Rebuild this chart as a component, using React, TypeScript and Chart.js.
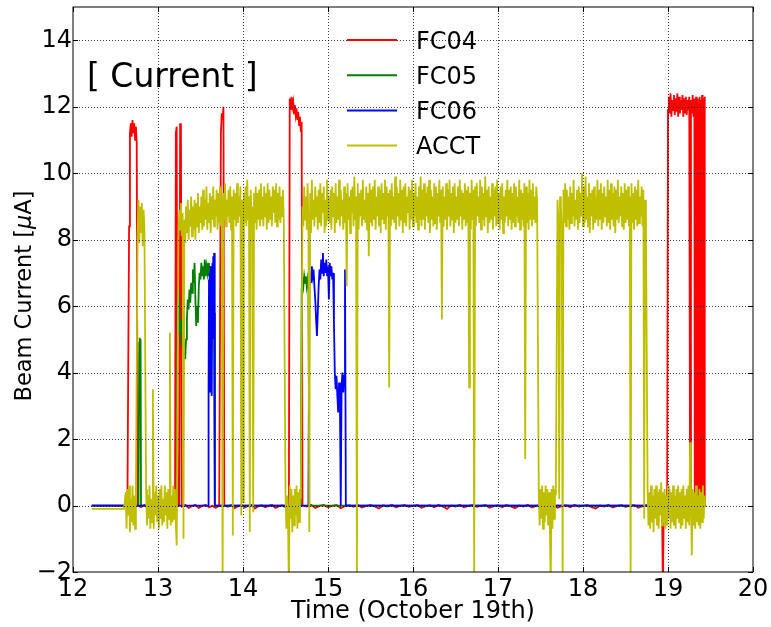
import { useEffect, useRef } from "react";
import { Chart, registerables } from "chart.js";

Chart.register(...registerables);

type Point = { x: number; y: number };

// Axes: time of day (hours, October 19th) and beam current in µA
const X_RANGE = [12, 20];
const Y_RANGE = [-2, 15];
const X_TICKS = [12, 13, 14, 15, 16, 17, 18, 19, 20];
const Y_TICKS = [-2, 0, 2, 4, 6, 8, 10, 12, 14];
const SERIES_NAMES = ["FC04", "FC05", "FC06", "ACCT"];

// ---- FC04 Faraday cup -------------------------------------------------------
const fc04Lead = [0, 0];
const fc04Pulse1 = [8.4, 11.2, 11.5, 11.1, 11.6, 11.2, 11.5, 11.0, 11.4, 10.9];
const fc04Base1 = [0.0, -0.05, 0.02, -0.08, -0.02, 0.02, -0.06, -0.01, 0.02, -0.06, -0.03, 0.0];
const fc04Pulse2 = [11.2, 11.4, 0.0, 0.0, 0.0, 11.5, 11.3];
const fc04Base2 = [-0.03, 0.02, -0.07, -0.02, 0.02, -0.08, -0.01, 0.02, -0.05, -0.01, -0.07, 0.0];
const fc04Pulse3 = [11.2, 11.8, 11.6, 12.0];
const fc04Base3 = [
  0.0, -0.04, 0.02, -0.08, -0.03, 0.02, -0.06, -0.01, 0.02, -0.09,
  -0.02, 0.01, -0.05, -0.01, 0.02, -0.07, -0.03, 0.01, -0.05, 0.0,
];
const fc04Pulse4 = [12.25, 11.9, 12.3, 12.0, 12.15, 11.8, 12.05, 11.75, 11.95, 11.6, 11.85, 11.45, 11.7, 11.25, 11.55];
const fc04Base4 = [
  0.0, -0.03, 0.02, -0.07, -0.01, 0.02, -0.05, -0.01, 0.02, -0.08,
  -0.02, 0.01, -0.04, 0.02, -0.06, -0.01, 0.02, -0.03, -0.09, 0.01,
  -0.03, 0.02, -0.05, -0.01, 0.02, -0.04, -0.01, 0.02, -0.07, -0.02,
  0.01, -0.05, 0.02, -0.03, -0.1, 0.0, -0.03, 0.02, -0.05, -0.01,
  0.02, -0.04, -0.01, 0.02, -0.07, -0.02, 0.01, -0.05, 0.02, -0.03,
  -0.08, 0.0, -0.03, 0.02, -0.06, -0.01, 0.02, -0.04, -0.01, 0.02,
  -0.07, -0.02, 0.01, -0.05, 0.02, -0.03, -0.01, 0.02, -0.05, -0.09,
  0.0, -0.03, 0.02, -0.06, -0.01, 0.02, -0.04, -0.01, 0.02, -0.07,
  -0.02, 0.01, -0.05, 0.02, 0.0,
];
const fc04Dip = [0.0, -2.6, 0.0];
const fc04Pulse5 = [
  0.0,
  11.9, 12.3, 11.8, 12.4, 11.7, 12.2, 11.9, 12.35, 11.75, 12.25,
  11.85, 12.4, 11.7, 12.3, 11.8, 12.2, 11.9, 12.35, 11.7, 12.25,
  11.8, 12.3, 11.75, 12.2, 11.9, 12.3,
  0.05,
  12.2, 11.8, 12.35, 11.7, 12.25,
];
const fc04Pulse5Tail = [
  0.1, 12.2, 0.0, 12.3, 0.1, 11.9, 0.0, 12.25, 0.05, 12.1, 0.0, 12.3,
  0.1, 11.95, 0.0, 12.2, 0.05, 12.35, 0.0, 12.0, 0.1, 12.25, 0.0, 12.3, 0.0,
];

// ---- FC05 Faraday cup -------------------------------------------------------
const fc05Lead = [0, 0];
const fc05Blip = [4.9, 5.05, 4.85, 5.0];
const fc05Base1 = [0, 0];
const fc05Pulse1 = [
  5.9, 6.6, 6.0, 5.2, 5.6, 4.8, 5.2, 4.5, 4.9, 4.4,
  5.0, 5.6, 6.2, 5.9, 6.5, 6.1, 6.7, 6.4, 7.1, 6.7,
  7.3, 6.2, 5.4, 6.0, 5.5, 6.6, 7.0, 6.8, 7.3, 6.9,
  7.2, 6.8, 7.4, 6.9, 7.2, 7.0, 7.3, 6.9, 7.2, 6.6,
  7.0, 6.4, 6.8, 5.8, 0.0,
];
const fc05Base2 = [0, 0];
const fc05Pulse2 = [6.5, 6.8, 6.6, 6.9, 6.7, 6.9, 6.6, 6.8, 6.5];
const fc05Base3 = [0, 0];

// ---- FC06 Faraday cup -------------------------------------------------------
const fc06Lead = [0, 0];
const fc06Pulse1 = [3.5, 6.8, 3.4, 7.0, 4.0, 7.2, 3.6, 6.9, 3.3, 7.3, 5.0, 7.5, 6.2, 7.6, 3.5];
const fc06Base1 = [0, 0];
const fc06Pulse2 = [
  6.6, 7.0, 6.7, 7.2, 6.9, 7.1, 6.6, 6.2, 5.6, 5.1,
  5.8, 6.6, 7.1, 6.8, 7.4, 7.0, 7.6, 6.9, 7.3, 7.0,
  7.4, 6.9, 7.2, 6.2, 7.3, 6.9, 7.2, 6.8, 7.0, 5.5,
  4.0, 3.5, 3.9, 3.3, 2.8, 3.7, 3.2, 0.0, 3.6, 4.0,
  3.4, 3.9, 7.1,
];
const fc06Base2 = [0, 0];

// ---- ACCT current transformer (logged every 0.01 h) --------------------------
const ACCT_STEP = 0.01;
const acctLead = [-0.1, -0.1];
const acctQuiet1 = [0.4, -0.7, 0.5, -0.3, 0.6, -0.8, 0.2, -0.5, 0.6, -0.6, 0.3, -0.7, 0.4];
const acctBurst = [8.1, 9.2, 7.9, 9.0, 8.2, 9.1, 7.8, 8.9, 8.4];
const acctQuiet2 = [
  0.5, -0.6, 0.3, -0.4, 0.6, -0.7, 0.2, -0.5, 3.5, -0.7,
  0.4, -0.3, 0.6, -0.5, 0.3, -0.7, 0.5, -0.4, 0.6, -0.6,
  0.2, -0.5, 0.6, -0.3, 0.4, -0.7, 0.5, -0.4, 5.2, -0.6,
  0.3, -0.5, 0.6, -0.4, 0.5, -0.6, -1.2,
];
const acctBeam1 = [
  8.0, 8.9, 8.3, 9.1, 8.1, 8.8, -1.0, 8.6, 7.9, 9.0,
  8.2, 9.2, 8.0, 8.9, 8.4, 9.3, 8.1, 9.0, 8.3, 9.2,
  8.0, 9.1, 8.4, 9.4, 8.2, 9.0, 8.5, 9.3, 8.3, 9.5,
  8.4, 9.2, 8.6, 9.6, 8.3, 9.1, 8.5, 9.4, 8.2, 9.3,
  8.6, 9.6, 8.4, 9.2, 8.7, 9.5, 8.3, 9.4, 8.5, 9.6,
  8.4, 9.3, -2.5, 9.4, 8.6, 9.7, 8.4, 9.2, 8.7, 9.5,
  8.5, 9.6, 8.3, 9.3, -0.9, 9.5, 8.6, 9.4, 8.4, 9.7,
  8.5, 9.3, 8.7, 9.6, -0.3, 9.2, 0.1, 9.4, 8.5, 9.6,
  8.4, 9.8, 8.6, 9.3, -0.8, 9.5, 8.7, 9.0, -0.2, 9.4,
  8.5, 9.6, 8.3, 9.4, 8.6, 9.5, 8.4, 9.7, 8.6, 9.3,
  8.4, 9.6, 8.7, 9.4, 8.3, 9.7, 8.5, 9.5, 8.6, 9.3,
  8.4, 9.6, 8.8, 9.5, 8.5, 9.7, 8.4, 9.4, 8.6, 9.6,
  8.5, 9.3, 8.7, 9.5, 8.5,
];
const acctQuiet3 = [0.4, -0.7, 0.3, -0.5, -2.5, 0.6, -0.4, 0.5, -0.8, 0.3, -0.6, 0.5, -0.3, 0.6, -0.7, 0.4, -0.5, 0.5, 0.2];
const acctBeam2 = [
  9.0, 8.4, 9.6, 8.6, 9.3, 8.3, 9.7, 8.5, -0.8, 9.4,
  8.2, 9.8, 8.6, 9.2, 8.4, 9.6, 8.7, 9.3, 8.3, 9.5,
  8.5, 9.7, 8.4, 9.4, 8.8, 9.6, 8.2, 9.2, 8.4, 9.8,
  8.6, 9.3, 8.5, 9.5, 8.3, 9.6, 8.7, 9.4, 8.2, 9.7,
  8.5, 9.3, 8.6, 9.8, 8.4, 9.5, 8.7, 9.2, 8.3, 9.6,
  8.5, 9.4, 6.6, 9.7, 8.6, 9.3, 8.2, 9.5, 8.8, 9.6,
  8.4, 9.9, 8.6, 9.3, -2.5, 9.7, 8.3, 9.4, 8.7, 9.5,
  8.4, 9.8, 8.6, 9.2, 8.5, 9.6, 8.3, 9.4, 7.5, 9.7,
  8.5, 9.5, 8.4, 9.6, 8.6, 9.8, 8.3, 9.3, 8.7, 9.6,
  8.4, 9.5, 8.2, 9.7, 8.6, 9.4, 8.5, 9.8, 8.3, 9.6,
  8.7, 9.4, 3.55, 9.5, 8.4, 9.7, 8.6, 9.3, 8.5, 9.9,
  8.3, 9.6, 8.7, 9.4, 8.4, 9.8, 8.6, 9.5, 8.2, 9.6,
  8.5, 9.7, 8.4, 9.3, 8.8, 9.6, 8.3, 9.5, 8.6, 9.8,
  8.4, 9.4, 8.7, 9.7, 8.5, 9.3, 8.3, 9.6, 8.6, 9.9,
  8.4, 9.5, 8.6, 9.7, 8.3, 9.4, 8.7, 9.6, 8.5, 9.8,
  8.2, 9.5, 8.6, 9.3, 8.4, 9.7, 8.5, 9.6, 8.3, 9.4,
  8.7, 9.8, 8.5, 9.5, 5.6, 9.6, 8.4, 9.3, 8.6, 9.7,
  8.3, 9.5, 8.7, 9.8, 8.4, 9.4, 8.6, 9.6, 8.2, 9.7,
  8.5, 9.3, 8.6, 9.6, 8.4, 9.8, 8.7, 9.5, 8.3, 9.4,
  8.6, 9.7, 8.4, 9.5, 8.5, 9.6, 3.55, 9.4, 8.3, 9.8,
  8.6, 9.5, -2.5, 9.6, 8.4, 9.7, 8.7, 9.3, 8.5, 9.8,
  8.3, 9.6, 8.6, 9.4, 8.4, 9.9, 8.7, 9.5, 8.2, 9.6,
  8.5, 9.3, 8.6, 9.7, 8.3, 9.5, 8.7, 9.6, 8.4, 9.8,
  8.5, 9.4, 8.3, 9.6, 8.6, 9.7, 8.2, 9.3, 8.5, 9.5,
  8.7, 9.8, 8.4, 9.5, 8.6, 9.6, 8.3, 9.4, 8.5, 9.7,
  8.4, 9.6, 8.7, 9.3, 8.5, 9.8, 8.3, 9.5, 8.6, 9.4,
  8.4, 9.7, 1.4, 9.6, 8.5, 9.4, 8.3, 9.8, 8.6, 9.5,
  8.4, 9.7, 8.6, 9.3, 8.5, 9.6, 9.2,
];
const acctQuiet4 = [
  0.3, -0.6, 0.5, -0.4, 0.6, -0.7, 0.4, -0.5, 0.6, -0.3,
  0.5, -0.6, 0.4, -0.5, -2.5, 0.5, -0.7, 0.6, -0.4, 0.5, 0.3,
];
const acctBeam3 = [
  9.2, 8.6, 0.2, 9.3, 9.0, 8.4, -2.5, 9.5, 8.5, 9.7,
  8.4, 9.5, 8.6, 9.3, 8.3, 9.6, 8.5, 9.4, 8.7, 9.8,
  8.4, 9.2, 8.6, 9.5, 8.3, 9.6, 8.5, 9.4, 8.7, 10.0,
  8.4, 9.6, 8.5, 9.9, 8.6, 9.3, 8.4, 9.7, 8.2, 9.4,
  8.7, 9.5, 8.3, 9.6, 8.5, 9.3, 8.6, 9.8, 8.4, 9.5,
  8.6, 9.7, 8.3, 9.4, 8.5, 9.6, 8.7, 9.3, 8.4, 9.8,
  8.5, 9.5, 8.3, 9.7, 8.6, 9.4, 8.4, 9.6, 8.2, 9.5,
  8.6, 9.8, 8.5, 9.3, 8.7, 9.6, 8.4, 9.4, 8.3, 9.7,
  8.5, 9.5, 8.6, 9.6, 8.4, 9.3, -2.5, 9.7, 8.5, 9.4,
  8.3, 9.6, 8.6, 9.5, 8.4, 9.8, 8.5, 9.3, 8.7, 9.6,
  8.4, 9.5, -0.4, 9.2, 8.8,
];
const acctQuiet5 = [
  0.5, -0.6, 0.4, -0.7, 0.6, -0.5, 0.3, -0.8, 0.5, -0.4,
  0.6, -0.6, 0.4, -0.7, 0.5, -0.3, 0.7, -0.6, 0.4, -0.5,
  0.5, -0.7, 0.3, -0.6, 0.6, -0.4, 0.5, -0.7, 0.4, -0.5,
  0.6, -0.6, 0.3, -0.7, 0.5, -0.4, 0.6, -0.5, 0.4, -0.7,
  0.5, -0.6, 0.6, -0.4, 0.3, -0.7, 0.5, -0.5, 0.6, -0.6,
  1.9, 0.2, -1.5, 0.5, -0.6, 0.4, -0.7, 0.6, -0.5, 0.3,
  -0.6, 0.5, -0.7, 0.4, -0.5, 0.6, -0.4, 0.3, 0.0,
];

// A block of logged samples starting at a time stamp with a fixed logging step
function block(start: number, step: number, values: number[]): Point[] {
  return values.map((y, i) => ({ x: start + i * step, y }));
}

const fc04Points = [
  ...block(12.22, 0.42, fc04Lead),
  ...block(12.66, 0.01, fc04Pulse1),
  ...block(12.76, 0.04, fc04Base1),
  ...block(13.21, 0.01, fc04Pulse2),
  ...block(13.28, 0.04, fc04Base2),
  ...block(13.74, 0.01, fc04Pulse3),
  ...block(13.78, 0.04, fc04Base3),
  ...block(14.55, 0.01, fc04Pulse4),
  ...block(14.7, 0.05, fc04Base4),
  ...block(18.93, 0.01, fc04Dip),
  ...block(18.99, 0.01, fc04Pulse5),
  ...block(19.315, 0.005, fc04Pulse5Tail),
];

const fc05Points = [
  ...block(12.22, 0.55, fc05Lead),
  ...block(12.78, 0.005, fc05Blip),
  ...block(12.8, 0.42, fc05Base1),
  ...block(13.23, 0.01, fc05Pulse1),
  ...block(13.68, 1.0, fc05Base2),
  ...block(14.69, 0.01, fc05Pulse2),
  ...block(14.78, 4.66, fc05Base3),
];

const fc06Points = [
  ...block(12.22, 1.37, fc06Lead),
  ...block(13.595, 0.005, fc06Pulse1),
  ...block(13.67, 1.1, fc06Base1),
  ...block(14.78, 0.01, fc06Pulse2),
  ...block(15.21, 4.23, fc06Base2),
];

const acctPoints = [
  ...block(12.22, 0.38, acctLead),
  ...block(12.62, ACCT_STEP, acctQuiet1),
  ...block(12.76, ACCT_STEP, acctBurst),
  ...block(12.86, ACCT_STEP, acctQuiet2),
  ...block(13.24, ACCT_STEP, acctBeam1),
  ...block(14.5, ACCT_STEP, acctQuiet3),
  ...block(14.7, ACCT_STEP, acctBeam2),
  ...block(17.48, ACCT_STEP, acctQuiet4),
  ...block(17.7, ACCT_STEP, acctBeam3),
  ...block(18.76, ACCT_STEP, acctQuiet5),
];

const COLORS = ["#ff0000", "#008000", "#0000ff", "#bfbf00"];
const LINE_WIDTHS = [1.8, 1.8, 1.8, 1.8];
const FONT = '"DejaVu Sans", "Liberation Sans", sans-serif';

// Grid, frame, inward ticks, labels, legend and panel caption
const decorPlugin = {
  id: "decor",
  afterDatasetsDraw(chart: any) {
    const { ctx, chartArea: a, scales } = chart;
    const xs = scales.x;
    const ys = scales.y;
    ctx.save();

    // dotted grid on top of the traces
    ctx.strokeStyle = "rgba(0,0,0,0.75)";
    ctx.lineWidth = 1;
    ctx.setLineDash([1, 2]);
    for (const t of X_TICKS) {
      if (t === X_RANGE[0] || t === X_RANGE[1]) continue;
      const px = Math.round(xs.getPixelForValue(t)) + 0.5;
      ctx.beginPath();
      ctx.moveTo(px, a.top);
      ctx.lineTo(px, a.bottom);
      ctx.stroke();
    }
    for (const t of Y_TICKS) {
      if (t === Y_RANGE[0]) continue;
      const py = Math.round(ys.getPixelForValue(t)) + 0.5;
      ctx.beginPath();
      ctx.moveTo(a.left, py);
      ctx.lineTo(a.right, py);
      ctx.stroke();
    }
    ctx.setLineDash([]);

    // inward tick marks on all four sides
    ctx.strokeStyle = "#000";
    const tl = 5;
    for (const t of X_TICKS) {
      const px = Math.round(xs.getPixelForValue(t)) + 0.5;
      ctx.beginPath();
      ctx.moveTo(px, a.bottom);
      ctx.lineTo(px, a.bottom - tl);
      ctx.moveTo(px, a.top);
      ctx.lineTo(px, a.top + tl);
      ctx.stroke();
    }
    for (const t of Y_TICKS) {
      const py = Math.round(ys.getPixelForValue(t)) + 0.5;
      ctx.beginPath();
      ctx.moveTo(a.left, py);
      ctx.lineTo(a.left + tl, py);
      ctx.moveTo(a.right, py);
      ctx.lineTo(a.right - tl, py);
      ctx.stroke();
    }

    // axes frame
    ctx.strokeStyle = "#000";
    ctx.lineWidth = 1;
    ctx.strokeRect(a.left, a.top, a.right - a.left, a.bottom - a.top);

    // tick labels
    ctx.fillStyle = "#000";
    ctx.font = `24px ${FONT}`;
    ctx.textBaseline = "alphabetic";
    ctx.textAlign = "center";
    for (const t of X_TICKS) {
      ctx.fillText(String(t), xs.getPixelForValue(t), a.bottom + 24);
    }
    ctx.textAlign = "right";
    for (const t of Y_TICKS) {
      const label = t < 0 ? "\u2212" + Math.abs(t) : String(t);
      ctx.fillText(label, a.left - 1, ys.getPixelForValue(t) + 6.5);
    }

    // axis titles
    ctx.textAlign = "center";
    ctx.fillText("Time (October 19th)", (a.left + a.right) / 2, 618);

    ctx.save();
    ctx.translate(31, 296);
    ctx.rotate(-Math.PI / 2);
    const titleSize = 22.5;
    const parts: [string, string][] = [
      ["Beam Current [", `${titleSize}px ${FONT}`],
      ["\u03bc", `italic ${titleSize}px ${FONT}`],
      ["A]", `${titleSize}px ${FONT}`],
    ];
    let total = 0;
    for (const [s, f] of parts) {
      ctx.font = f;
      total += ctx.measureText(s).width;
    }
    let cx = -total / 2;
    ctx.textAlign = "left";
    for (const [s, f] of parts) {
      ctx.font = f;
      ctx.fillText(s, cx, 0);
      cx += ctx.measureText(s).width;
    }
    ctx.restore();

    // panel caption
    ctx.font = `33px ${FONT}`;
    ctx.textAlign = "left";
    ctx.fillText("[ Current ]", 87, 86.5);

    // legend
    ctx.font = `24px ${FONT}`;
    SERIES_NAMES.forEach((name, i) => {
      const y = 40 + i * 35.2;
      ctx.strokeStyle = COLORS[i];
      ctx.lineWidth = 2;
      ctx.beginPath();
      ctx.moveTo(347, y);
      ctx.lineTo(397, y);
      ctx.stroke();
      ctx.fillStyle = "#000";
      ctx.fillText(name, 416, y + 8.5);
    });

    ctx.restore();
  },
};

export default function App() {
  const canvasRef = useRef<HTMLCanvasElement | null>(null);

  useEffect(() => {
    const canvas = canvasRef.current;
    if (!canvas) return;
    const seriesPoints = [fc04Points, fc05Points, fc06Points, acctPoints];
    const chart = new Chart(canvas, {
      type: "line",
      data: {
        datasets: seriesPoints.map((pts, i) => ({
          label: SERIES_NAMES[i],
          data: pts,
          borderColor: COLORS[i],
          backgroundColor: COLORS[i],
          borderWidth: LINE_WIDTHS[i],
          borderJoinStyle: "miter" as const,
          pointRadius: 0,
          tension: 0,
          fill: false,
          order: 4 - i,
        })),
      },
      options: {
        responsive: false,
        animation: false,
        devicePixelRatio: 1,
        events: [],
        layout: { padding: { left: 73, right: 18, top: 7, bottom: 55 } },
        plugins: {
          legend: { display: false },
          tooltip: { enabled: false },
        },
        scales: {
          x: { type: "linear", min: X_RANGE[0], max: X_RANGE[1], display: false },
          y: { type: "linear", min: Y_RANGE[0], max: Y_RANGE[1], display: false },
        },
      },
      plugins: [decorPlugin],
    });
    return () => chart.destroy();
  }, []);

  return (
    <div style={{ position: "fixed", left: 0, top: 0, width: 771, height: 627, background: "#fff" }}>
      <canvas ref={canvasRef} width={771} height={627} style={{ display: "block" }} />
    </div>
  );
}
